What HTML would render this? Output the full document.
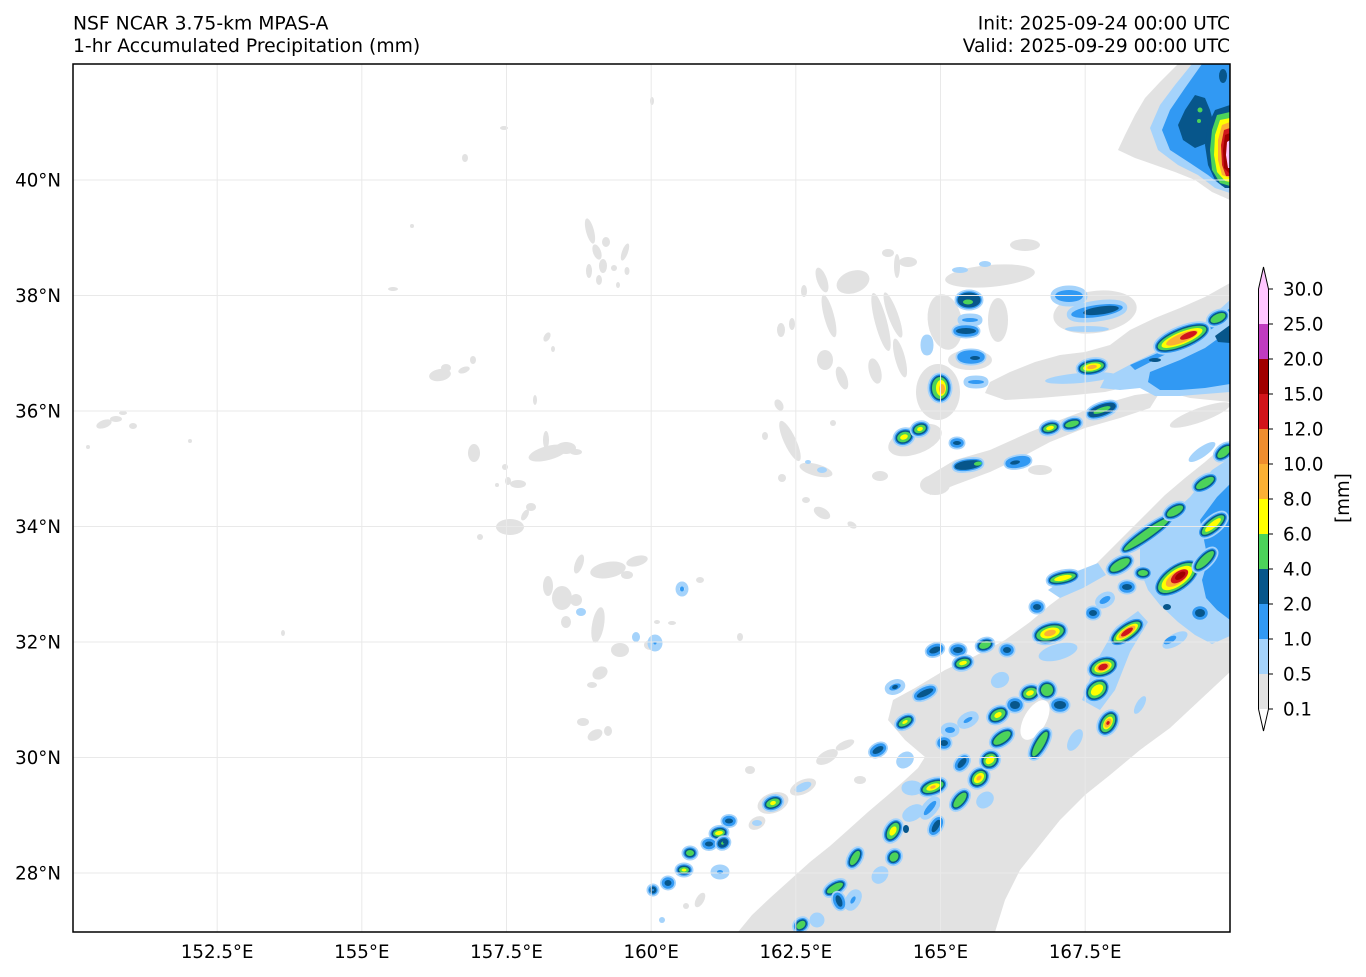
<!DOCTYPE html>
<html>
<head>
<meta charset="utf-8">
<style>
html,body{margin:0;padding:0;background:#fff;}
body{width:1366px;height:977px;overflow:hidden;position:relative;}
svg{position:absolute;left:0;top:0;}
text{font-family:"DejaVu Sans","Liberation Sans",sans-serif;fill:#000;}
.g{fill:#e2e2e2}
.w{fill:#fff}
.l{fill:#a5d3fb}
.b{fill:#3199f3}
.d{fill:#07568b}
.n{fill:#4cd35a}
.y{fill:#ffff00}
.o{fill:#fbb034}
.o2{fill:#ef8d2e}
.r{fill:#d0161b}
.m{fill:#a10000}
.p{fill:#ffc6ff}
.L{fill:#a5d3fb;stroke:#a5d3fb;stroke-width:9}
.B{fill:#3199f3;stroke:#3199f3;stroke-width:5.5}
.D{fill:#07568b;stroke:#07568b;stroke-width:3}
.gl{stroke:#e9e9e9;stroke-width:1;fill:none}
</style>
</head>
<body>
<svg width="1366" height="977" viewBox="0 0 1366 977">
<defs>
<clipPath id="mc"><rect x="73" y="64" width="1157" height="868"/></clipPath>
</defs>

<g clip-path="url(#mc)">
<rect x="73" y="64" width="1157" height="868" fill="#fff"/>

<!-- ===== scattered gray (west/middle) ===== -->
<g class="g">
<ellipse cx="104" cy="424" rx="8" ry="4" transform="rotate(-20 104 424)"/>
<ellipse cx="116" cy="419" rx="6" ry="3"/>
<ellipse cx="123" cy="413" rx="4" ry="2"/>
<ellipse cx="133" cy="426" rx="4" ry="3"/>
<ellipse cx="88" cy="447" rx="2" ry="2"/>
<ellipse cx="190" cy="441" rx="2" ry="2"/>
<ellipse cx="465" cy="158" rx="3" ry="4"/>
<ellipse cx="504" cy="128" rx="4" ry="2"/>
<ellipse cx="652" cy="101" rx="2" ry="4"/>
<ellipse cx="393" cy="289" rx="5" ry="2"/>
<ellipse cx="412" cy="226" rx="2" ry="2"/>
<ellipse cx="283" cy="633" rx="2" ry="3"/>
<ellipse cx="590" cy="231" rx="4" ry="13" transform="rotate(-15 590 231)"/>
<ellipse cx="597" cy="252" rx="4" ry="8" transform="rotate(-20 597 252)"/>
<ellipse cx="603" cy="266" rx="4" ry="7"/>
<ellipse cx="589" cy="271" rx="3" ry="7"/>
<ellipse cx="606" cy="242" rx="4" ry="5"/>
<ellipse cx="625" cy="252" rx="3" ry="9" transform="rotate(20 625 252)"/>
<ellipse cx="627" cy="271" rx="2.5" ry="4"/>
<ellipse cx="614" cy="268" rx="3" ry="3"/>
<ellipse cx="599" cy="280" rx="3" ry="5"/>
<ellipse cx="618" cy="285" rx="2" ry="3"/>
<ellipse cx="440" cy="375" rx="11" ry="6" transform="rotate(-10 440 375)"/>
<ellipse cx="446" cy="368" rx="5" ry="4"/>
<ellipse cx="464" cy="370" rx="6" ry="3" transform="rotate(-20 464 370)"/>
<ellipse cx="473" cy="360" rx="3" ry="4"/>
<ellipse cx="547" cy="337" rx="3" ry="5" transform="rotate(30 547 337)"/>
<ellipse cx="553" cy="349" rx="2" ry="3"/>
<ellipse cx="535" cy="400" rx="2" ry="5"/>
<ellipse cx="548" cy="453" rx="20" ry="7" transform="rotate(-15 548 453)"/>
<ellipse cx="566" cy="448" rx="10" ry="6"/>
<ellipse cx="546" cy="440" rx="3" ry="9"/>
<ellipse cx="576" cy="452" rx="6" ry="3"/>
<ellipse cx="474" cy="453" rx="6" ry="9"/>
<ellipse cx="505" cy="467" rx="3" ry="3"/>
<ellipse cx="508" cy="481" rx="3" ry="4"/>
<ellipse cx="518" cy="484" rx="8" ry="4"/>
<ellipse cx="497" cy="485" rx="2" ry="2"/>
<ellipse cx="510" cy="527" rx="14" ry="8"/>
<ellipse cx="525" cy="515" rx="3" ry="6" transform="rotate(30 525 515)"/>
<ellipse cx="531" cy="507" rx="5" ry="4"/>
<ellipse cx="480" cy="537" rx="3" ry="3"/>
<ellipse cx="608" cy="570" rx="18" ry="8" transform="rotate(-10 608 570)"/>
<ellipse cx="637" cy="561" rx="11" ry="5" transform="rotate(-15 637 561)"/>
<ellipse cx="627" cy="575" rx="6" ry="4"/>
<ellipse cx="579" cy="564" rx="4" ry="10" transform="rotate(20 579 564)"/>
<ellipse cx="548" cy="586" rx="5" ry="10"/>
<ellipse cx="562" cy="598" rx="10" ry="12"/>
<ellipse cx="576" cy="600" rx="6" ry="6"/>
<ellipse cx="566" cy="622" rx="5" ry="6"/>
<ellipse cx="598" cy="625" rx="6" ry="18" transform="rotate(10 598 625)"/>
<ellipse cx="620" cy="650" rx="9" ry="7"/>
<ellipse cx="650" cy="645" rx="6" ry="5"/>
<ellipse cx="600" cy="673" rx="8" ry="6" transform="rotate(-30 600 673)"/>
<ellipse cx="592" cy="685" rx="5" ry="3"/>
<ellipse cx="583" cy="722" rx="6" ry="4"/>
<ellipse cx="595" cy="735" rx="8" ry="5" transform="rotate(-30 595 735)"/>
<ellipse cx="608" cy="731" rx="4" ry="5"/>
<ellipse cx="700" cy="580" rx="4" ry="3"/>
<ellipse cx="740" cy="637" rx="3" ry="4"/>
<ellipse cx="657" cy="622" rx="3" ry="2"/>
<ellipse cx="672" cy="623" rx="4" ry="2"/>
<ellipse cx="822" cy="280" rx="5" ry="13" transform="rotate(-20 822 280)"/>
<ellipse cx="829" cy="316" rx="5" ry="22" transform="rotate(-15 829 316)"/>
<ellipse cx="853" cy="282" rx="17" ry="11" transform="rotate(-20 853 282)"/>
<ellipse cx="881" cy="322" rx="6" ry="30" transform="rotate(-15 881 322)"/>
<ellipse cx="897" cy="266" rx="3" ry="12"/>
<ellipse cx="825" cy="360" rx="8" ry="10"/>
<ellipse cx="842" cy="378" rx="5" ry="12" transform="rotate(-20 842 378)"/>
<ellipse cx="875" cy="371" rx="6" ry="13" transform="rotate(-15 875 371)"/>
<ellipse cx="781" cy="330" rx="4" ry="7"/>
<ellipse cx="792" cy="324" rx="3" ry="6"/>
<ellipse cx="804" cy="291" rx="3" ry="6"/>
<ellipse cx="888" cy="253" rx="6" ry="4"/>
<ellipse cx="893" cy="315" rx="5" ry="24" transform="rotate(-20 893 315)"/>
<ellipse cx="900" cy="358" rx="5" ry="20" transform="rotate(-15 900 358)"/>
<ellipse cx="908" cy="262" rx="9" ry="5"/>
<ellipse cx="779" cy="405" rx="4" ry="6" transform="rotate(-30 779 405)"/>
<ellipse cx="790" cy="441" rx="6" ry="22" transform="rotate(-25 790 441)"/>
<ellipse cx="816" cy="470" rx="17" ry="6" transform="rotate(15 816 470)"/>
<ellipse cx="782" cy="478" rx="4" ry="4"/>
<ellipse cx="822" cy="513" rx="9" ry="5" transform="rotate(30 822 513)"/>
<ellipse cx="852" cy="525" rx="5" ry="3" transform="rotate(30 852 525)"/>
<ellipse cx="765" cy="436" rx="3" ry="4"/>
<ellipse cx="833" cy="423" rx="3" ry="3"/>
<ellipse cx="806" cy="500" rx="4" ry="3"/>
<ellipse cx="750" cy="770" rx="5" ry="4"/>
<ellipse cx="757" cy="823" rx="9" ry="6" transform="rotate(-30 757 823)"/>
<ellipse cx="803" cy="787" rx="14" ry="7" transform="rotate(-25 803 787)"/>
<ellipse cx="827" cy="757" rx="12" ry="6" transform="rotate(-30 827 757)"/>
<ellipse cx="860" cy="780" rx="6" ry="4"/>
<ellipse cx="773" cy="803" rx="16" ry="10" transform="rotate(-20 773 803)"/>
<ellipse cx="845" cy="745" rx="10" ry="4" transform="rotate(-25 845 745)"/>
<ellipse cx="700" cy="900" rx="4" ry="8" transform="rotate(30 700 900)"/>
<ellipse cx="686" cy="906" rx="3" ry="3"/>
</g>

<!-- ===== main lower band gray ===== -->
<polygon class="g" points="738,932 752,915 770,898 790,880 810,862 830,846 848,830 868,812 888,795 905,780 918,768 925,757 905,740 888,720 893,700 915,688 945,670 975,656 1005,640 1030,622 1050,605 1070,590 1090,570 1105,555 1125,535 1145,515 1165,495 1185,478 1205,462 1230,440 1230,672 1200,700 1170,728 1140,750 1110,775 1085,795 1060,820 1040,845 1020,870 1005,900 995,932"/>
<ellipse class="w" cx="1035" cy="720" rx="11" ry="22" transform="rotate(30 1035 720)"/>
<ellipse class="w" cx="1215" cy="580" rx="5" ry="8"/>

<!-- ===== upper band gray ===== -->
<g class="g">
<polygon points="1230,283 1205,297 1180,308 1155,318 1130,330 1110,345 1085,352 1060,355 1035,362 1010,372 990,382 985,393 1005,400 1040,398 1075,395 1105,392 1135,385 1160,390 1190,398 1230,402"/>
<polygon points="925,478 955,460 990,450 1030,432 1065,418 1100,405 1135,395 1160,392 1150,408 1120,418 1085,428 1050,442 1020,458 990,472 955,485 930,495"/>
<ellipse cx="938" cy="392" rx="22" ry="28"/>
<ellipse cx="915" cy="440" rx="28" ry="14" transform="rotate(-20 915 440)"/>
<ellipse cx="990" cy="276" rx="45" ry="11" transform="rotate(-5 990 276)"/>
<ellipse cx="945" cy="322" rx="17" ry="28" transform="rotate(-10 945 322)"/>
<ellipse cx="998" cy="320" rx="10" ry="22"/>
<ellipse cx="1095" cy="312" rx="42" ry="21" transform="rotate(-8 1095 312)"/>
<ellipse cx="1025" cy="245" rx="15" ry="6"/>
<ellipse cx="935" cy="485" rx="15" ry="10"/>
<ellipse cx="880" cy="476" rx="8" ry="5"/>
<ellipse cx="1200" cy="415" rx="32" ry="7" transform="rotate(-20 1200 415)"/>
<ellipse cx="970" cy="360" rx="22" ry="10"/>
<ellipse cx="1050" cy="378" rx="40" ry="9" transform="rotate(-8 1050 378)"/>
<ellipse cx="1040" cy="470" rx="12" ry="5"/>
</g>

<!-- ===== top-right corner system ===== -->
<polygon class="g" points="1178,64 1160,82 1145,98 1135,115 1125,135 1118,150 1135,158 1155,165 1175,172 1195,180 1212,192 1230,200 1230,64"/>
<polygon class="l" points="1192,64 1175,85 1160,105 1150,128 1158,150 1178,165 1198,175 1215,188 1230,193 1230,64"/>
<polygon class="b" points="1202,64 1185,88 1170,110 1162,130 1170,150 1190,163 1208,175 1222,186 1230,188 1230,64"/>
<polygon class="d" points="1195,95 1185,110 1178,125 1183,140 1195,148 1210,142 1215,128 1210,110 1205,98"/>
<polygon class="d" points="1215,110 1208,125 1205,145 1208,165 1215,180 1225,188 1230,188 1230,105"/>
<ellipse class="d" cx="1223" cy="76" rx="4" ry="7"/>
<ellipse class="n" cx="1200" cy="110" rx="2.5" ry="2.5"/>
<ellipse class="n" cx="1199" cy="121" rx="2" ry="2"/>
<polygon class="n" points="1217,115 1212,130 1210,150 1212,170 1220,183 1230,186 1230,112"/>
<polygon class="y" points="1220,120 1215,135 1214,155 1217,172 1225,181 1230,182 1230,118"/>
<polygon class="o" points="1222,125 1218,140 1218,160 1222,175 1230,178 1230,122"/>
<polygon class="r" points="1224,130 1221,145 1222,165 1226,176 1230,176 1230,128"/>
<polygon class="m" points="1225,135 1223,150 1224,168 1230,174 1230,133"/>
<polygon class="p" points="1227,142 1226,155 1228,168 1230,168 1230,140"/>

<!-- ===== upper band blue ===== -->
<ellipse class="l" cx="960" cy="270" rx="8" ry="3"/>
<ellipse class="l" cx="985" cy="264" rx="6" ry="3"/>
<ellipse class="l" cx="1080" cy="378" rx="35" ry="5" transform="rotate(-5 1080 378)"/>
<polygon class="l" points="1105,378 1135,362 1160,350 1190,335 1210,318 1230,300 1230,392 1205,394 1180,396 1155,396 1140,388 1120,390 1100,388"/>
<polygon class="b" points="1150,372 1180,360 1205,348 1230,330 1230,384 1205,388 1180,390 1160,390 1148,382"/>
<polygon class="b" points="1130,365 1160,352 1190,338 1215,320 1230,308 1230,318 1210,330 1185,345 1160,357 1135,370"/>
<polygon class="d" points="1215,336 1230,325 1230,343 1218,342"/>
<ellipse class="L" cx="927" cy="345" rx="2" ry="6"/>

<!-- upper cells -->
<g transform="translate(969 300)"><ellipse class="L" rx="10" ry="6"/><ellipse class="B" rx="10" ry="6"/><ellipse class="D" rx="10" ry="6"/><ellipse class="n" cx="-1" cy="2" rx="5" ry="2.5"/></g>
<g transform="translate(970 320)"><ellipse class="L" rx="8" ry="2"/><ellipse class="b" rx="8" ry="2"/></g>
<g transform="translate(966 331)"><ellipse class="L" rx="10" ry="3"/><ellipse class="B" rx="10" ry="3"/><ellipse class="d" rx="10" ry="3"/></g>
<g transform="translate(971 357)"><ellipse class="L" rx="11" ry="4"/><ellipse class="B" rx="11" ry="4"/><ellipse class="d" cx="4" cy="1" rx="5" ry="2"/></g>
<g transform="translate(940 388)"><ellipse class="L" rx="8" ry="11"/><ellipse class="B" rx="8" ry="11"/><ellipse class="D" rx="8" ry="11"/><ellipse class="n" rx="8" ry="11"/><ellipse class="y" cx="1" rx="5" ry="8"/><ellipse class="o" cx="2" cy="1" rx="3" ry="5"/></g>
<g transform="translate(976 382)"><ellipse class="L" rx="8" ry="2"/><ellipse class="b" rx="8" ry="2"/></g>
<g transform="translate(904 437) rotate(-20)"><ellipse class="L" rx="7" ry="5"/><ellipse class="B" rx="7" ry="5"/><ellipse class="D" rx="7" ry="5"/><ellipse class="n" rx="7" ry="5"/><ellipse class="y" rx="4" ry="2.5"/></g>
<g transform="translate(920 429) rotate(-20)"><ellipse class="L" rx="6" ry="4"/><ellipse class="B" rx="6" ry="4"/><ellipse class="D" rx="6" ry="4"/><ellipse class="n" rx="6" ry="4"/><ellipse class="y" rx="3" ry="2"/></g>
<g transform="translate(957 443)"><ellipse class="L" rx="4" ry="2"/><ellipse class="B" rx="4" ry="2"/><ellipse class="d" rx="4" ry="2"/></g>
<g transform="translate(968 465) rotate(-8)"><ellipse class="L" rx="12" ry="3"/><ellipse class="B" rx="12" ry="3"/><ellipse class="D" rx="12" ry="3"/><ellipse class="d" rx="12" ry="3"/><ellipse class="n" cx="10" rx="4" ry="2"/></g>
<g transform="translate(1018 462) rotate(-10)"><ellipse class="L" rx="10" ry="3"/><ellipse class="B" rx="10" ry="3"/><ellipse class="d" cx="-3" rx="5" ry="2"/></g>
<g transform="translate(1050 428) rotate(-15)"><ellipse class="L" rx="7" ry="3.5"/><ellipse class="B" rx="7" ry="3.5"/><ellipse class="D" rx="7" ry="3.5"/><ellipse class="n" rx="7" ry="3.5"/><ellipse class="y" rx="4" ry="2"/></g>
<g transform="translate(1072 424) rotate(-15)"><ellipse class="L" rx="7" ry="3"/><ellipse class="B" rx="7" ry="3"/><ellipse class="D" rx="7" ry="3"/><ellipse class="n" rx="7" ry="3"/></g>
<g transform="translate(1102 410) rotate(-20)"><ellipse class="L" rx="13" ry="4"/><ellipse class="B" rx="13" ry="4"/><ellipse class="D" rx="13" ry="4"/><ellipse class="n" rx="9" ry="2.5"/></g>
<g transform="translate(1069 296)"><ellipse class="L" rx="14" ry="6"/><ellipse class="b" rx="14" ry="6"/></g>
<g transform="translate(1097 311) rotate(-8)"><ellipse class="L" rx="26" ry="6"/><ellipse class="b" rx="26" ry="6"/><ellipse class="d" cx="4" rx="18" ry="4"/></g>
<ellipse class="l" cx="1087" cy="329" rx="22" ry="3"/>
<g transform="translate(1092 367) rotate(-10)"><ellipse class="L" rx="12" ry="5"/><ellipse class="B" rx="12" ry="5"/><ellipse class="D" rx="12" ry="5"/><ellipse class="n" rx="12" ry="5"/><ellipse class="y" rx="9" ry="3.5"/><ellipse class="o" rx="5" ry="2"/></g>
<g transform="translate(1182 338) rotate(-22)"><ellipse class="L" rx="26" ry="8"/><ellipse class="B" rx="26" ry="8"/><ellipse class="D" rx="26" ry="8"/><ellipse class="n" rx="26" ry="8"/><ellipse class="y" rx="22" ry="6"/><ellipse class="o" rx="17" ry="4.5"/><ellipse class="r" cx="7" rx="9" ry="3"/></g>
<g transform="translate(1218 318) rotate(-25)"><ellipse class="L" rx="8" ry="4"/><ellipse class="B" rx="8" ry="4"/><ellipse class="D" rx="8" ry="4"/><ellipse class="n" rx="8" ry="4"/></g>
<g transform="translate(1155 360)"><ellipse class="d" rx="6" ry="2"/></g>

<!-- ===== lower band blue shading ===== -->
<polygon class="l" points="1140,548 1165,520 1190,497 1212,470 1230,458 1230,636 1212,644 1195,635 1178,622 1160,605 1148,590 1140,570"/>
<polygon class="b" points="1200,520 1217,497 1230,484 1230,620 1217,610 1206,598 1202,580 1208,560 1204,540"/>
<polygon class="l" points="1082,700 1096,662 1116,627 1138,611 1148,622 1130,652 1115,690 1100,710"/>
<polygon class="l" points="1048,590 1075,572 1098,563 1106,575 1083,588 1060,598"/>
<ellipse class="l" cx="1202" cy="452" rx="16" ry="5" transform="rotate(-35 1202 452)"/>
<ellipse class="l" cx="1175" cy="640" rx="14" ry="6" transform="rotate(-30 1175 640)"/>
<ellipse class="b" cx="1170" cy="640" rx="7" ry="3" transform="rotate(-30 1170 640)"/>
<ellipse class="l" cx="1075" cy="740" rx="6" ry="12" transform="rotate(30 1075 740)"/>
<ellipse class="l" cx="1140" cy="705" rx="4" ry="10" transform="rotate(30 1140 705)"/>
<ellipse class="l" cx="1058" cy="652" rx="20" ry="8" transform="rotate(-15 1058 652)"/>

<!-- blue patches in main band -->
<g transform="translate(930 808) rotate(-50)"><ellipse class="L" rx="9" ry="3"/><ellipse class="b" rx="9" ry="3"/></g>
<g transform="translate(912 788)"><ellipse class="L" rx="6" ry="3"/></g>
<g transform="translate(950 730)"><ellipse class="L" rx="5" ry="3"/><ellipse class="b" rx="5" ry="3"/></g>
<g transform="translate(913 813) rotate(-30)"><ellipse class="L" rx="7" ry="3"/></g>
<g transform="translate(853 900) rotate(-60)"><ellipse class="L" rx="7" ry="3"/><ellipse class="b" rx="4" ry="2"/></g>
<g transform="translate(817 920)"><ellipse class="L" rx="3" ry="3"/></g>
<g transform="translate(905 760) rotate(-40)"><ellipse class="L" rx="5" ry="3"/></g>
<g transform="translate(880 875) rotate(-50)"><ellipse class="L" rx="5" ry="3"/></g>
<g transform="translate(968 720) rotate(-30)"><ellipse class="L" rx="7" ry="3"/><ellipse class="b" rx="5" ry="2"/></g>
<g transform="translate(985 800) rotate(-40)"><ellipse class="L" rx="5" ry="3"/></g>
<g transform="translate(1000 680) rotate(-30)"><ellipse class="L" rx="5" ry="3"/></g>

<!-- small line of cells SW -->
<g transform="translate(773 803) rotate(-20)"><ellipse class="L" rx="7" ry="4"/><ellipse class="B" rx="7" ry="4"/><ellipse class="D" rx="7" ry="4"/><ellipse class="n" rx="7" ry="4"/><ellipse class="y" rx="3" ry="2"/></g>
<g transform="translate(729 821)"><ellipse class="L" rx="4" ry="2.5"/><ellipse class="B" rx="4" ry="2.5"/><ellipse class="d" rx="4" ry="2.5"/></g>
<g transform="translate(719 833) rotate(-10)"><ellipse class="L" rx="6" ry="3.5"/><ellipse class="B" rx="6" ry="3.5"/><ellipse class="D" rx="6" ry="3.5"/><ellipse class="n" rx="6" ry="3.5"/><ellipse class="y" rx="4" ry="2"/></g>
<g transform="translate(709 844)"><ellipse class="L" rx="4" ry="2.5"/><ellipse class="B" rx="4" ry="2.5"/><ellipse class="d" rx="4" ry="2.5"/></g>
<g transform="translate(723 843) rotate(-30)"><ellipse class="L" rx="4" ry="3"/><ellipse class="B" rx="4" ry="3"/><ellipse class="D" rx="4" ry="3"/><ellipse class="n" rx="2" ry="1.5"/><ellipse class="d" cx="2" rx="2" ry="1.5"/></g>
<g transform="translate(690 853)"><ellipse class="L" rx="4" ry="3"/><ellipse class="B" rx="4" ry="3"/><ellipse class="D" rx="4" ry="3"/><ellipse class="n" rx="4" ry="3"/></g>
<g transform="translate(684 870)"><ellipse class="L" rx="5" ry="3"/><ellipse class="B" rx="5" ry="3"/><ellipse class="D" rx="5" ry="3"/><ellipse class="n" rx="5" ry="3"/><ellipse class="y" rx="2.5" ry="1.5"/></g>
<g transform="translate(668 883)"><ellipse class="L" rx="3.5" ry="3"/><ellipse class="B" rx="3.5" ry="3"/><ellipse class="d" rx="3.5" ry="3"/></g>
<g transform="translate(653 890)"><ellipse class="L" rx="2" ry="2"/><ellipse class="B" rx="2" ry="2"/><ellipse class="D" rx="2" ry="2"/><ellipse class="b" rx="1" ry="1"/></g>
<ellipse class="l" cx="662" cy="920" rx="3" ry="3"/>
<g transform="translate(720 872)"><ellipse class="L" rx="5" ry="3"/><ellipse class="b" rx="3" ry="2"/></g>
<g transform="translate(682 589)"><ellipse class="L" rx="2" ry="3"/><ellipse class="b" rx="2" ry="2.5"/></g>
<ellipse class="l" cx="636" cy="637" rx="4" ry="5"/>
<ellipse class="l" cx="581" cy="612" rx="5" ry="4"/>
<g transform="translate(655 643)"><ellipse class="L" rx="3" ry="4"/><ellipse class="b" rx="1.5" ry="1.5"/></g>
<ellipse class="l" cx="803" cy="787" rx="9" ry="4" transform="rotate(-25 803 787)"/>
<ellipse class="l" cx="757" cy="823" rx="5" ry="3"/>
<ellipse class="l" cx="822" cy="470" rx="5" ry="3"/>
<ellipse class="l" cx="808" cy="462" rx="3" ry="2"/>

<!-- NW arm cells -->
<g transform="translate(895 687) rotate(-20)"><ellipse class="L" rx="6" ry="3"/><ellipse class="b" rx="6" ry="3"/><ellipse class="d" rx="3" ry="2"/></g>
<g transform="translate(925 693) rotate(-25)"><ellipse class="L" rx="9" ry="3"/><ellipse class="B" rx="9" ry="3"/><ellipse class="d" rx="9" ry="3"/></g>
<g transform="translate(905 722) rotate(-30)"><ellipse class="L" rx="7" ry="3.5"/><ellipse class="B" rx="7" ry="3.5"/><ellipse class="D" rx="7" ry="3.5"/><ellipse class="n" rx="7" ry="3.5"/><ellipse class="y" rx="3" ry="1.5"/></g>
<g transform="translate(878 750) rotate(-30)"><ellipse class="L" rx="6" ry="3"/><ellipse class="B" rx="6" ry="3"/><ellipse class="d" rx="6" ry="3"/></g>
<g transform="translate(935 650) rotate(-20)"><ellipse class="L" rx="6" ry="3"/><ellipse class="B" rx="6" ry="3"/><ellipse class="d" rx="6" ry="3"/></g>
<g transform="translate(958 650)"><ellipse class="L" rx="5" ry="3"/><ellipse class="B" rx="5" ry="3"/><ellipse class="d" rx="5" ry="3"/></g>
<g transform="translate(963 663) rotate(-15)"><ellipse class="L" rx="7" ry="4"/><ellipse class="B" rx="7" ry="4"/><ellipse class="D" rx="7" ry="4"/><ellipse class="n" rx="7" ry="4"/><ellipse class="y" rx="4" ry="2"/></g>
<g transform="translate(985 645) rotate(-20)"><ellipse class="L" rx="6" ry="3.5"/><ellipse class="B" rx="6" ry="3.5"/><ellipse class="D" rx="6" ry="3.5"/><ellipse class="n" rx="6" ry="3.5"/></g>
<g transform="translate(1007 650)"><ellipse class="L" rx="4" ry="3"/><ellipse class="B" rx="4" ry="3"/><ellipse class="d" rx="4" ry="3"/></g>
<g transform="translate(1037 607)"><ellipse class="L" rx="4" ry="3"/><ellipse class="B" rx="4" ry="3"/><ellipse class="d" rx="4" ry="3"/></g>
<g transform="translate(1063 578) rotate(-12)"><ellipse class="L" rx="13" ry="4"/><ellipse class="B" rx="13" ry="4"/><ellipse class="D" rx="13" ry="4"/><ellipse class="n" rx="13" ry="4"/><ellipse class="y" rx="9" ry="2.5"/></g>
<g transform="translate(1050 633) rotate(-15)"><ellipse class="L" rx="14" ry="7"/><ellipse class="B" rx="14" ry="7"/><ellipse class="D" rx="14" ry="7"/><ellipse class="n" rx="14" ry="7"/><ellipse class="y" rx="10" ry="5"/><ellipse class="o" rx="6" ry="3"/></g>
<g transform="translate(1093 613)"><ellipse class="L" rx="4" ry="3"/><ellipse class="B" rx="4" ry="3"/><ellipse class="d" rx="4" ry="3"/></g>

<!-- main band cells -->
<g transform="translate(801 925) rotate(-40)"><ellipse class="L" rx="5" ry="3.5"/><ellipse class="B" rx="5" ry="3.5"/><ellipse class="D" rx="5" ry="3.5"/><ellipse class="n" rx="5" ry="3.5"/></g>
<g transform="translate(835 888) rotate(-30)"><ellipse class="L" rx="9" ry="3.5"/><ellipse class="B" rx="9" ry="3.5"/><ellipse class="D" rx="9" ry="3.5"/><ellipse class="n" rx="9" ry="3.5"/></g>
<g transform="translate(839 901) rotate(-20)"><ellipse class="L" rx="3" ry="6"/><ellipse class="B" rx="3" ry="6"/><ellipse class="d" rx="3" ry="6"/></g>
<g transform="translate(855 858) rotate(-60)"><ellipse class="L" rx="8" ry="3.5"/><ellipse class="B" rx="8" ry="3.5"/><ellipse class="D" rx="8" ry="3.5"/><ellipse class="n" rx="8" ry="3.5"/></g>
<g transform="translate(894 857) rotate(-50)"><ellipse class="L" rx="5" ry="4"/><ellipse class="B" rx="5" ry="4"/><ellipse class="D" rx="5" ry="4"/><ellipse class="n" rx="5" ry="4"/></g>
<g transform="translate(893 831) rotate(-60)"><ellipse class="L" rx="9" ry="5"/><ellipse class="B" rx="9" ry="5"/><ellipse class="D" rx="9" ry="5"/><ellipse class="n" rx="9" ry="5"/><ellipse class="y" rx="5" ry="3"/></g>
<g transform="translate(906 829)"><ellipse class="d" rx="3" ry="4"/></g>
<g transform="translate(936 826) rotate(-60)"><ellipse class="L" rx="7" ry="3"/><ellipse class="B" rx="7" ry="3"/><ellipse class="d" rx="7" ry="3"/></g>
<g transform="translate(933 787) rotate(-20)"><ellipse class="L" rx="11" ry="5"/><ellipse class="B" rx="11" ry="5"/><ellipse class="D" rx="11" ry="5"/><ellipse class="n" rx="11" ry="5"/><ellipse class="y" rx="7" ry="3"/><ellipse class="o" rx="3" ry="1.5"/></g>
<g transform="translate(960 800) rotate(-50)"><ellipse class="L" rx="9" ry="4"/><ellipse class="B" rx="9" ry="4"/><ellipse class="D" rx="9" ry="4"/><ellipse class="n" rx="9" ry="4"/></g>
<g transform="translate(962 763) rotate(-50)"><ellipse class="L" rx="6" ry="3"/><ellipse class="B" rx="6" ry="3"/><ellipse class="d" rx="6" ry="3"/></g>
<g transform="translate(944 743)"><ellipse class="L" rx="4" ry="3"/><ellipse class="B" rx="4" ry="3"/><ellipse class="d" rx="4" ry="3"/></g>
<g transform="translate(979 778) rotate(-45)"><ellipse class="L" rx="8" ry="6"/><ellipse class="B" rx="8" ry="6"/><ellipse class="D" rx="8" ry="6"/><ellipse class="n" rx="8" ry="6"/><ellipse class="y" rx="6" ry="4"/><ellipse class="o" rx="3" ry="2"/></g>
<g transform="translate(990 760) rotate(-40)"><ellipse class="L" rx="7" ry="6"/><ellipse class="B" rx="7" ry="6"/><ellipse class="D" rx="7" ry="6"/><ellipse class="n" rx="7" ry="6"/><ellipse class="y" rx="5" ry="3.5"/></g>
<g transform="translate(1002 738) rotate(-35)"><ellipse class="L" rx="10" ry="4.5"/><ellipse class="B" rx="10" ry="4.5"/><ellipse class="D" rx="10" ry="4.5"/><ellipse class="n" rx="10" ry="4.5"/></g>
<g transform="translate(998 715) rotate(-30)"><ellipse class="L" rx="8" ry="5"/><ellipse class="B" rx="8" ry="5"/><ellipse class="D" rx="8" ry="5"/><ellipse class="n" rx="8" ry="5"/><ellipse class="y" rx="4" ry="2.5"/></g>
<g transform="translate(1030 693) rotate(-20)"><ellipse class="L" rx="7" ry="5"/><ellipse class="B" rx="7" ry="5"/><ellipse class="D" rx="7" ry="5"/><ellipse class="n" rx="7" ry="5"/><ellipse class="y" rx="4" ry="2.5"/></g>
<g transform="translate(1047 690) rotate(-20)"><ellipse class="L" rx="6" ry="6"/><ellipse class="B" rx="6" ry="6"/><ellipse class="D" rx="6" ry="6"/><ellipse class="n" rx="6" ry="6"/></g>
<g transform="translate(1060 705)"><ellipse class="L" rx="6" ry="4"/><ellipse class="B" rx="6" ry="4"/><ellipse class="d" rx="6" ry="4"/></g>
<g transform="translate(1040 744) rotate(-60)"><ellipse class="L" rx="14" ry="4"/><ellipse class="B" rx="14" ry="4"/><ellipse class="D" rx="14" ry="4"/><ellipse class="n" rx="14" ry="4"/></g>
<g transform="translate(1015 705)"><ellipse class="L" rx="5" ry="4"/><ellipse class="B" rx="5" ry="4"/><ellipse class="d" rx="5" ry="4"/></g>
<g transform="translate(1097 690) rotate(-40)"><ellipse class="L" rx="10" ry="7"/><ellipse class="B" rx="10" ry="7"/><ellipse class="D" rx="10" ry="7"/><ellipse class="n" rx="10" ry="7"/><ellipse class="y" rx="7" ry="4.5"/></g>
<g transform="translate(1103 667) rotate(-20)"><ellipse class="L" rx="12" ry="7"/><ellipse class="B" rx="12" ry="7"/><ellipse class="D" rx="12" ry="7"/><ellipse class="n" rx="12" ry="7"/><ellipse class="y" rx="9" ry="5"/><ellipse class="o" rx="7" ry="4"/><ellipse class="r" rx="5" ry="3"/></g>
<g transform="translate(1127 632) rotate(-35)"><ellipse class="L" rx="16" ry="6"/><ellipse class="B" rx="16" ry="6"/><ellipse class="D" rx="16" ry="6"/><ellipse class="n" rx="16" ry="6"/><ellipse class="y" rx="13" ry="4.5"/><ellipse class="o" rx="10" ry="3.5"/><ellipse class="r" rx="7" ry="2.5"/></g>
<g transform="translate(1108 723) rotate(-60)"><ellipse class="L" rx="10" ry="6"/><ellipse class="B" rx="10" ry="6"/><ellipse class="D" rx="10" ry="6"/><ellipse class="n" rx="10" ry="6"/><ellipse class="y" rx="7" ry="4"/><ellipse class="o" rx="5" ry="3"/><ellipse class="r" rx="2" ry="1.5"/></g>
<g transform="translate(1120 565) rotate(-30)"><ellipse class="L" rx="11" ry="4.5"/><ellipse class="B" rx="11" ry="4.5"/><ellipse class="D" rx="11" ry="4.5"/><ellipse class="n" rx="11" ry="4.5"/></g>
<g transform="translate(1143 573)"><ellipse class="L" rx="5" ry="3"/><ellipse class="B" rx="5" ry="3"/><ellipse class="D" rx="5" ry="3"/><ellipse class="n" rx="5" ry="3"/></g>
<g transform="translate(1127 587)"><ellipse class="L" rx="5" ry="3"/><ellipse class="B" rx="5" ry="3"/><ellipse class="d" rx="5" ry="3"/></g>
<g transform="translate(1147 534) rotate(-35)"><ellipse class="L" rx="28" ry="4"/><ellipse class="B" rx="28" ry="4"/><ellipse class="D" rx="28" ry="4"/><ellipse class="n" rx="28" ry="4"/></g>
<g transform="translate(1175 511) rotate(-30)"><ellipse class="L" rx="9" ry="4"/><ellipse class="B" rx="9" ry="4"/><ellipse class="D" rx="9" ry="4"/><ellipse class="n" rx="9" ry="4"/></g>
<g transform="translate(1205 483) rotate(-30)"><ellipse class="L" rx="10" ry="4"/><ellipse class="B" rx="10" ry="4"/><ellipse class="D" rx="10" ry="4"/><ellipse class="n" rx="10" ry="4"/></g>
<g transform="translate(1213 525) rotate(-40)"><ellipse class="L" rx="14" ry="5"/><ellipse class="B" rx="14" ry="5"/><ellipse class="D" rx="14" ry="5"/><ellipse class="n" rx="14" ry="5"/><ellipse class="y" rx="10" ry="3"/></g>
<g transform="translate(1177 578) rotate(-35)"><ellipse class="L" rx="22" ry="10"/><ellipse class="B" rx="22" ry="10"/><ellipse class="D" rx="22" ry="10"/><ellipse class="n" rx="22" ry="10"/><ellipse class="y" rx="18" ry="8"/><ellipse class="o" rx="13" ry="6"/><ellipse class="r" cx="3" rx="10" ry="5"/><ellipse class="m" cx="4" rx="6" ry="3"/></g>
<g transform="translate(1205 560) rotate(-45)"><ellipse class="L" rx="12" ry="4"/><ellipse class="B" rx="12" ry="4"/><ellipse class="D" rx="12" ry="4"/><ellipse class="n" rx="12" ry="4"/></g>
<g transform="translate(1167 607)"><ellipse class="d" rx="4" ry="3"/></g>
<g transform="translate(1200 613)"><ellipse class="L" rx="5" ry="4"/><ellipse class="B" rx="5" ry="4"/><ellipse class="d" rx="5" ry="4"/></g>
<g transform="translate(1224 452) rotate(-40)"><ellipse class="L" rx="8" ry="4"/><ellipse class="B" rx="8" ry="4"/><ellipse class="D" rx="8" ry="4"/><ellipse class="n" rx="8" ry="4"/></g>
<g transform="translate(1105 600) rotate(-30)"><ellipse class="L" rx="6" ry="3"/><ellipse class="b" rx="6" ry="3"/></g>

<!-- gridlines on top -->
<g class="gl">
<line x1="217.2" y1="64" x2="217.2" y2="932"/>
<line x1="361.8" y1="64" x2="361.8" y2="932"/>
<line x1="506.5" y1="64" x2="506.5" y2="932"/>
<line x1="651.2" y1="64" x2="651.2" y2="932"/>
<line x1="795.8" y1="64" x2="795.8" y2="932"/>
<line x1="940.5" y1="64" x2="940.5" y2="932"/>
<line x1="1085.2" y1="64" x2="1085.2" y2="932"/>
<line x1="73" y1="180" x2="1230" y2="180"/>
<line x1="73" y1="295.5" x2="1230" y2="295.5"/>
<line x1="73" y1="411" x2="1230" y2="411"/>
<line x1="73" y1="526.5" x2="1230" y2="526.5"/>
<line x1="73" y1="642" x2="1230" y2="642"/>
<line x1="73" y1="757.5" x2="1230" y2="757.5"/>
<line x1="73" y1="873" x2="1230" y2="873"/>
</g>
</g>

<!-- map frame -->
<rect x="73" y="64" width="1157" height="868" fill="none" stroke="#000" stroke-width="1.5"/>

<!-- titles -->
<text x="73" y="29.5" font-size="18.75">NSF NCAR 3.75-km MPAS-A</text>
<text x="73" y="51.8" font-size="18.75">1-hr Accumulated Precipitation (mm)</text>
<text x="1230" y="29.5" font-size="18.6" text-anchor="end">Init: 2025-09-24 00:00 UTC</text>
<text x="1230" y="51.8" font-size="18.6" text-anchor="end">Valid: 2025-09-29 00:00 UTC</text>

<!-- lat labels -->
<g font-size="18.2" text-anchor="end">
<text x="61" y="186.6">40°N</text>
<text x="61" y="302.1">38°N</text>
<text x="61" y="417.6">36°N</text>
<text x="61" y="533.1">34°N</text>
<text x="61" y="648.6">32°N</text>
<text x="61" y="764.1">30°N</text>
<text x="61" y="879.6">28°N</text>
</g>
<!-- lon labels -->
<g font-size="18.2" text-anchor="middle">
<text x="217.2" y="958">152.5°E</text>
<text x="361.8" y="958">155°E</text>
<text x="506.5" y="958">157.5°E</text>
<text x="651.2" y="958">160°E</text>
<text x="795.8" y="958">162.5°E</text>
<text x="940.5" y="958">165°E</text>
<text x="1085.2" y="958">167.5°E</text>
</g>

<!-- colorbar -->
<g>
<polygon points="1258.5,289 1263.5,267 1268.5,289" fill="#ffc6ff"/>
<rect x="1258.5" y="289" width="10" height="35" fill="#ffc6ff"/>
<rect x="1258.5" y="324" width="10" height="35" fill="#c03bc0"/>
<rect x="1258.5" y="359" width="10" height="35" fill="#a00000"/>
<rect x="1258.5" y="394" width="10" height="35" fill="#d2141a"/>
<rect x="1258.5" y="429" width="10" height="35" fill="#ef8d2e"/>
<rect x="1258.5" y="464" width="10" height="35" fill="#fbb034"/>
<rect x="1258.5" y="499" width="10" height="35" fill="#ffff00"/>
<rect x="1258.5" y="534" width="10" height="35" fill="#4cd35a"/>
<rect x="1258.5" y="569" width="10" height="35" fill="#07568b"/>
<rect x="1258.5" y="604" width="10" height="35" fill="#3199f3"/>
<rect x="1258.5" y="639" width="10" height="35" fill="#a5d3fb"/>
<rect x="1258.5" y="674" width="10" height="35" fill="#e2e2e2"/>
<polygon points="1258.5,709 1263.5,731 1268.5,709" fill="#ffffff"/>
<path d="M1258.5,289 L1263.5,267 L1268.5,289 L1268.5,709 L1263.5,731 L1258.5,709 Z" fill="none" stroke="#000" stroke-width="1"/>
<g stroke="#000" stroke-width="1">
<line x1="1268.5" y1="289" x2="1273" y2="289"/>
<line x1="1268.5" y1="324" x2="1273" y2="324"/>
<line x1="1268.5" y1="359" x2="1273" y2="359"/>
<line x1="1268.5" y1="394" x2="1273" y2="394"/>
<line x1="1268.5" y1="429" x2="1273" y2="429"/>
<line x1="1268.5" y1="464" x2="1273" y2="464"/>
<line x1="1268.5" y1="499" x2="1273" y2="499"/>
<line x1="1268.5" y1="534" x2="1273" y2="534"/>
<line x1="1268.5" y1="569" x2="1273" y2="569"/>
<line x1="1268.5" y1="604" x2="1273" y2="604"/>
<line x1="1268.5" y1="639" x2="1273" y2="639"/>
<line x1="1268.5" y1="674" x2="1273" y2="674"/>
<line x1="1268.5" y1="709" x2="1273" y2="709"/>
</g>
<g font-size="18.2">
<text x="1283" y="295.6">30.0</text>
<text x="1283" y="330.6">25.0</text>
<text x="1283" y="365.6">20.0</text>
<text x="1283" y="400.6">15.0</text>
<text x="1283" y="435.6">12.0</text>
<text x="1283" y="470.6">10.0</text>
<text x="1283" y="505.6">8.0</text>
<text x="1283" y="540.6">6.0</text>
<text x="1283" y="575.6">4.0</text>
<text x="1283" y="610.6">2.0</text>
<text x="1283" y="645.6">1.0</text>
<text x="1283" y="680.6">0.5</text>
<text x="1283" y="715.6">0.1</text>
</g>
<text font-size="18.2" text-anchor="middle" transform="translate(1349 498) rotate(-90)">[mm]</text>
</g>
</svg>
</body>
</html>
